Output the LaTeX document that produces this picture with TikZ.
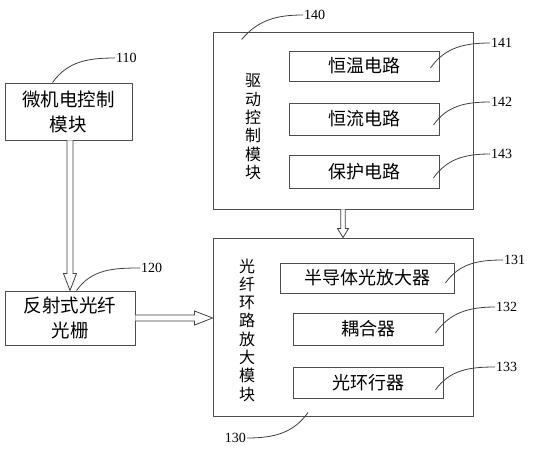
\documentclass[tikz,border=0pt]{standalone}
\usepackage{fontspec}
\setmainfont{Liberation Serif}
\newfontfamily\cjk{Noto Sans CJK SC}
\usetikzlibrary{calc}
\tikzset{
  box/.style={draw=black!70, line width=0.9pt, rectangle, inner sep=0pt, align=center, font=\cjk\fontsize{18.5}{25}\selectfont},
  inbox/.style={draw=black!70, line width=0.9pt, rectangle, inner sep=0pt, font=\cjk\fontsize{18}{20}\selectfont},
  vtext/.style={align=center, inner sep=0pt, font=\cjk\fontsize{16}{18.3}\selectfont},
  num/.style={inner sep=1pt, font=\fontsize{14}{14}\selectfont},
  leader/.style={draw=black!75, line width=0.8pt},
  arr/.style={draw=black!75, line width=0.8pt, fill=white, line join=miter}
}
\newcommand{\varrow}[5]{%
  \draw[arr] let \p1=(#1), \p2=(#2) in
    (\x2-#3,\y1) -- (\x2-#3,\y2+#5) -- (\x2-#4,\y2+#5) -- (\x2,\y2)
    -- (\x2+#4,\y2+#5) -- (\x2+#3,\y2+#5) -- (\x2+#3,\y1);}
\newcommand{\harrow}[5]{%
  \draw[arr] let \p1=(#1), \p2=(#2) in
    (\x1,\y1+#3) -- (\x2-#5,\y1+#3) -- (\x2-#5,\y1+#4) -- (\x2,\y1)
    -- (\x2-#5,\y1-#4) -- (\x2-#5,\y1-#3) -- (\x1,\y1-#3);}
\begin{document}
\begin{tikzpicture}[x=1pt,y=-1pt]
\useasboundingbox (0,0) rectangle (535,450);
% main boxes
\node[box, minimum width=127pt, minimum height=57pt] (b110) at (68.5,111.5) {微机电控制\\模块};
\node[box, minimum width=130pt, minimum height=54pt] (b120) at (70,318) {反射式光纤\\光栅};
\node[box, minimum width=260pt, minimum height=177pt] (b140) at (343,120.5) {};
\node[box, minimum width=260pt, minimum height=178pt] (b130) at (343,327) {};
% vertical titles
\node[vtext] (t140) at (253,127) {驱\\动\\控\\制\\模\\块};
\node[vtext] (t130) at (247,330) {光\\纤\\环\\路\\放\\大\\模\\块};
% inner boxes
\node[inbox, minimum width=150pt, minimum height=30pt] (b141) at (364,66) {恒温电路};
\node[inbox, minimum width=150pt, minimum height=32pt] (b142) at (364,119) {恒流电路};
\node[inbox, minimum width=150pt, minimum height=33pt] (b143) at (364,171.5) {保护电路};
\node[inbox, minimum width=174pt, minimum height=30pt] (b131) at (367,278) {半导体光放大器};
\node[inbox, minimum width=150pt, minimum height=32pt] (b132) at (368,329) {耦合器};
\node[inbox, minimum width=150pt, minimum height=31pt] (b133) at (368,382.5) {光环行器};
% arrows
\varrow{b110.south}{b120.north}{3pt}{6.5pt}{17pt}
\harrow{b120.east}{b130.west}{3pt}{7pt}{18pt}
\varrow{b140.south}{b130.north}{2.3pt}{5.5pt}{9pt}
% labels
\node[num, anchor=west] (l110) at (115,58) {110};
\node[num, anchor=west] (l120) at (140,268) {120};
\node[num, anchor=west] (l140) at (303,15) {140};
\node[num, anchor=west] (l141) at (490,43) {141};
\node[num, anchor=west] (l142) at (490,102) {142};
\node[num, anchor=west] (l143) at (490,154) {143};
\node[num, anchor=west] (l131) at (503,260) {131};
\node[num, anchor=west] (l132) at (495,307) {132};
\node[num, anchor=west] (l133) at (495,367) {133};
\node[num, anchor=east] (l130) at (247,438) {130};
% leaders
\draw[leader] ($(b110.north west)+(48,0)$) to[out=55,in=180] (l110.west);
\draw[leader] ($(b120.north west)+(72,0)$) to[out=55,in=180] (l120.west);
\draw[leader] ($(b140.north west)+(29,8)$) to[out=50,in=180] (l140.west);
\draw[leader] ($(b141.east)+(-9,2)$) to[out=55,in=180] (l141.west);
\draw[leader] ($(b142.east)+(-6,6)$) to[out=55,in=180] (l142.west);
\draw[leader] ($(b143.east)+(-6,6.5)$) to[out=55,in=180] (l143.west);
\draw[leader] ($(b131.east)+(-9,5)$) to[out=55,in=180] (l131.west);
\draw[leader] ($(b132.east)+(-8,4)$) to[out=55,in=180] (l132.west);
\draw[leader] ($(b133.east)+(-8,7.5)$) to[out=55,in=180] (l133.west);
\draw[leader] ($(b130.south)+(-35,-4)$) to[out=-125,in=0] (l130.east);
\end{tikzpicture}
\end{document}
